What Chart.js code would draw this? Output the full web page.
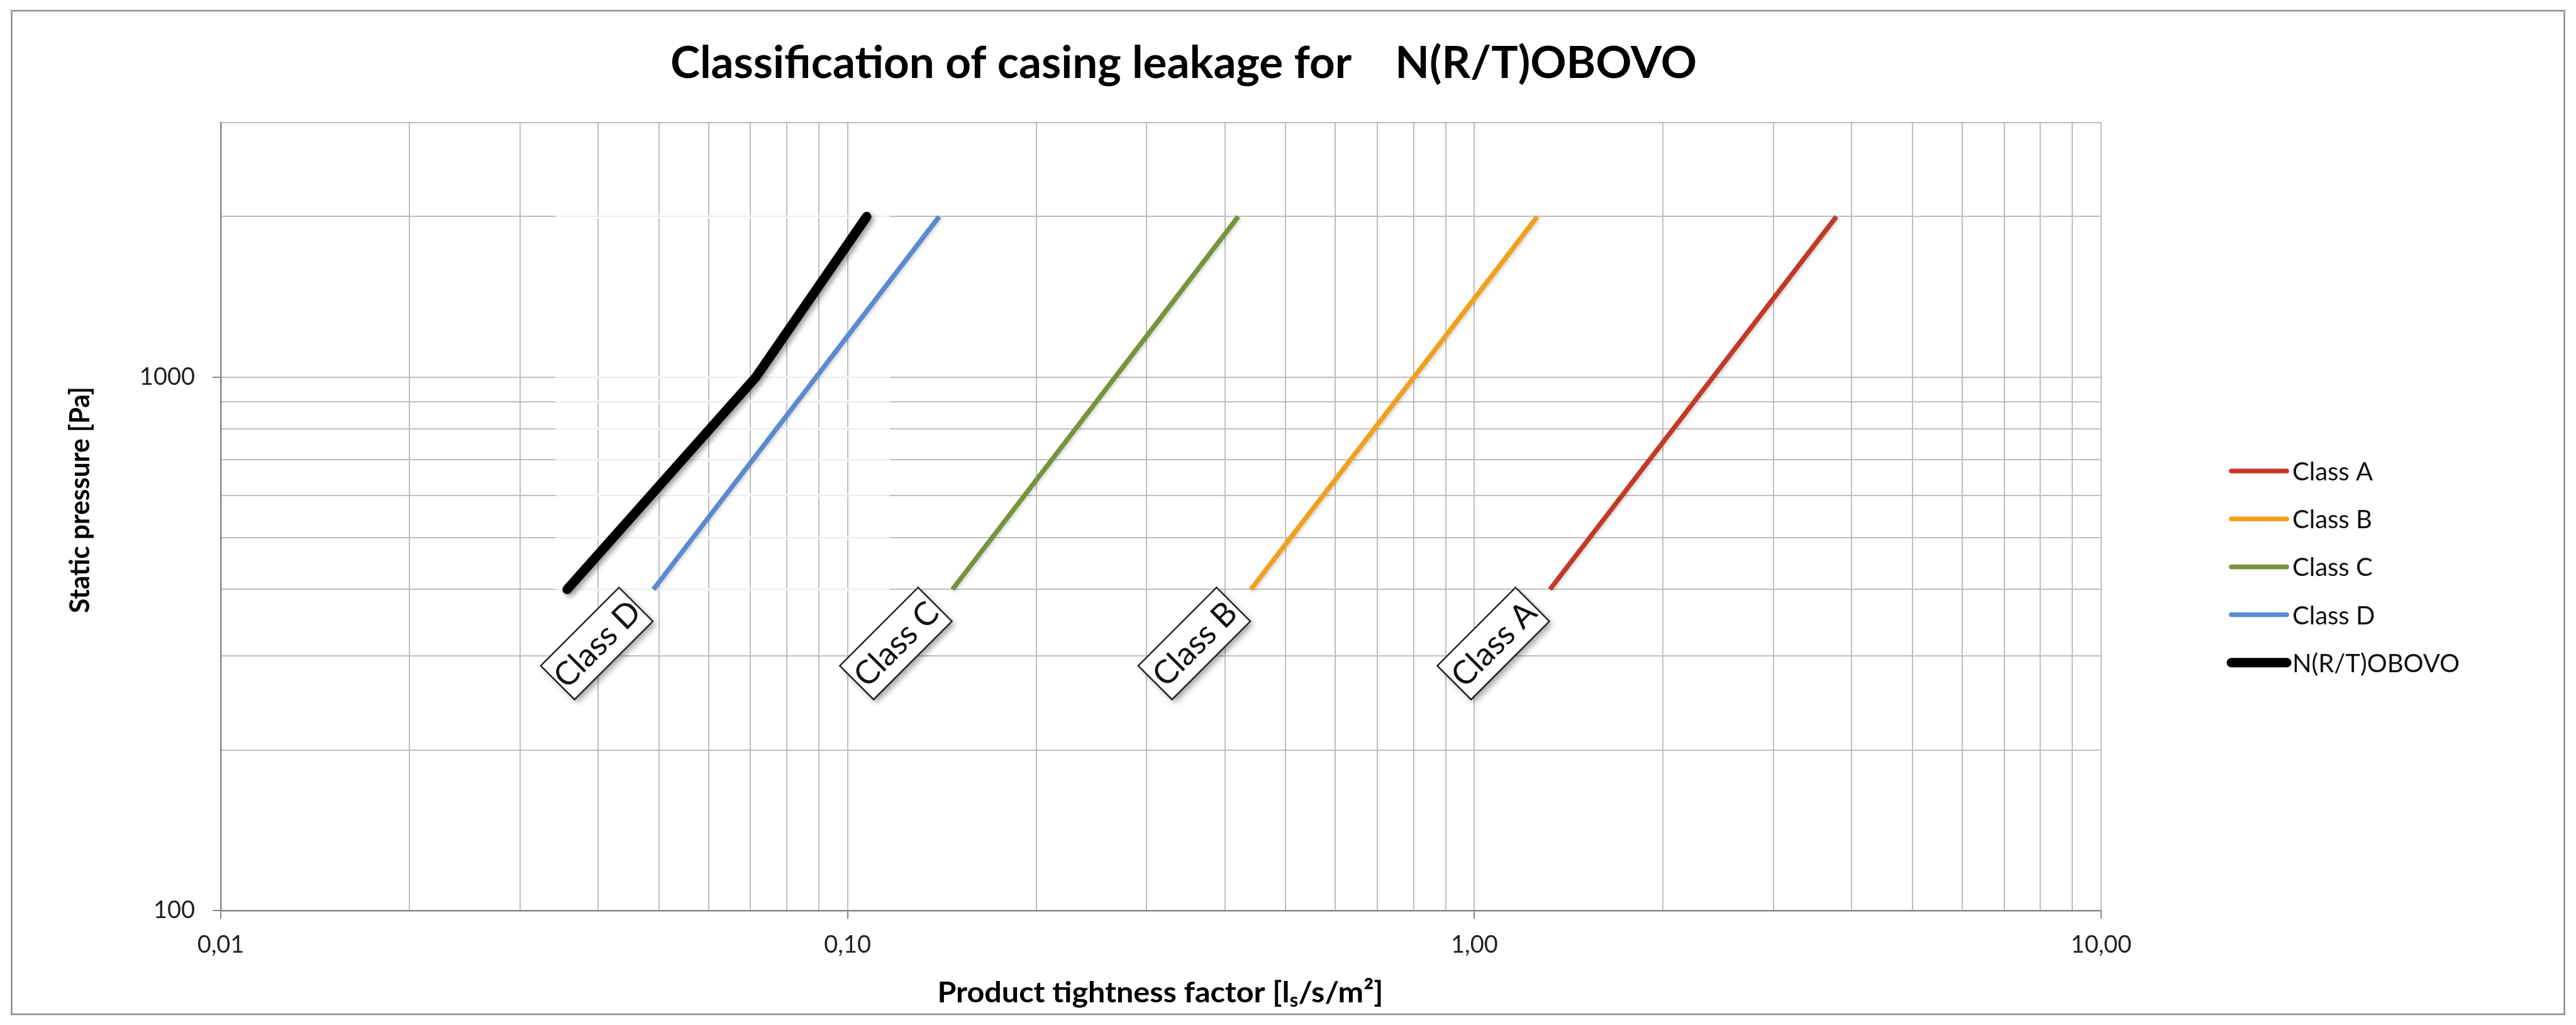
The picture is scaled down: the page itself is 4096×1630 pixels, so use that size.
<!DOCTYPE html>
<html>
<head>
<meta charset="utf-8">
<title>Classification of casing leakage</title>
<script src="https://cdn.jsdelivr.net/npm/chart.js@4.4.0/dist/chart.umd.min.js"></script>
<style>
  html, body { margin: 0; padding: 0; background: #fff; }
  #wrap { width: 4096px; height: 1630px; }
</style>
</head>
<body>
<div id="wrap"><canvas id="leakChart" width="4096" height="1630"></canvas></div>
<script>
// ===== data =====
const seriesNames = ["Class A", "Class B", "Class C", "Class D", "N(R/T)OBOVO"];
const classPressure = [400, 2000];            // Pa
const classA = [1.32, 3.78];                  // l/s/m2
const classB = [0.44, 1.26];
const classC = [0.147, 0.42];
const classD = [0.049, 0.14];
const obovoPressure = [400, 1000, 2000];
const obovo = [0.0357, 0.0714, 0.1073];

const xTickValues = [0.01, 0.02, 0.03, 0.04, 0.05, 0.06, 0.07, 0.08, 0.09,
  0.1, 0.2, 0.3, 0.4, 0.5, 0.6, 0.7, 0.8, 0.9,
  1, 2, 3, 4, 5, 6, 7, 8, 9, 10];
const xLabelValues = [0.01, 0.1, 1, 10];
const xLabelTexts = ["0,01", "0,10", "1,00", "10,00"];
const yTickValues = [100, 200, 300, 400, 500, 600, 700, 800, 900, 1000, 2000, 3000];
const yLabelValues = [100, 1000];
const yLabelTexts = ["100", "1000"];

const seriesColors = ["#C43828", "#F2A01C", "#77933C", "#5A8AD0", "#000000"];

// ===== helpers =====
const FONT = "Lato, 'Open Sans', sans-serif";
const gridGray = "#BEBEBE";
const axisGray = "#868686";

function points(xs, ys) {
  return xs.map((v, i) => ({ x: v, y: ys[i] }));
}

// draw text at a given size, squeezed horizontally to a target width
function squeezedText(ctx, text, size, width, x, y) {
  ctx.font = `bold ${size}px ${FONT}`;
  const sx = width / ctx.measureText(text).width;
  ctx.save();
  ctx.translate(x, y);
  ctx.scale(sx, 1);
  ctx.textAlign = "center";
  ctx.fillText(text, 0, 0);
  ctx.restore();
}

// frame, titles, legend, class tags
const decorPlugin = {
  id: "decor",
  beforeDraw(chart) {
    const ctx = chart.ctx;
    ctx.save();
    ctx.fillStyle = "#fff";
    ctx.fillRect(0, 0, chart.width, chart.height);
    ctx.strokeStyle = "#8C8C8C";
    ctx.lineWidth = 2.5;
    ctx.strokeRect(18.5, 17, chart.width - 37, chart.height - 34);
    ctx.restore();
  },
  beforeDatasetsDraw(chart) {
    // the pale patch behind the Class D tag washes out the horizontal grid
    const ctx = chart.ctx;
    const yScale = chart.scales.y;
    ctx.save();
    ctx.fillStyle = "rgba(255,255,255,0.7)";
    yTickValues.filter(v => v >= 400 && v <= 2000).forEach(v => {
      const py = yScale.getPixelForValue(v);
      ctx.fillRect(883, py - 2.5, 532, 5);
    });
    ctx.restore();
  },
  afterDatasetsDraw(chart) {
    const ctx = chart.ctx;
    // rotated class tags below the start of each class line
    for (let i = 0; i < 4; i++) {
      const p = chart.getDatasetMeta(i).data[0];
      const cx = p.x - 90, cy = p.y + 86;
      ctx.save();
      ctx.translate(cx, cy);
      ctx.rotate(-Math.PI / 4);
      ctx.shadowColor = "rgba(0,0,0,0.35)";
      ctx.shadowBlur = 10;
      ctx.shadowOffsetX = 5;
      ctx.shadowOffsetY = 5;
      ctx.fillStyle = "#fff";
      ctx.fillRect(-88, -38, 176, 76);
      ctx.shadowColor = "transparent";
      ctx.strokeStyle = "#262626";
      ctx.lineWidth = 2.5;
      ctx.strokeRect(-88, -38, 176, 76);
      ctx.fillStyle = "#111";
      ctx.font = `52px ${FONT}`;
      ctx.textAlign = "center";
      ctx.textBaseline = "middle";
      ctx.fillText(chart.data.datasets[i].label, 0, 2);
      ctx.restore();
    }
  },
  afterDraw(chart) {
    const ctx = chart.ctx;
    ctx.save();
    ctx.fillStyle = "#000";
    ctx.textBaseline = "alphabetic";

    // chart title
    squeezedText(ctx, "Classification of casing leakage for    N(R/T)OBOVO", 70, 1632, 1882, 124);

    // y axis title
    ctx.save();
    ctx.translate(142, 795);
    ctx.rotate(-Math.PI / 2);
    squeezedText(ctx, "Static pressure [Pa]", 43, 360, 0, 0);
    ctx.restore();

    // x axis title with subscript s
    const partA = "Product tightness factor [l", partB = "s", partC = "/s/m\u00B2]";
    const size = 46, subSize = 30;
    ctx.font = `bold ${size}px ${FONT}`;
    const wA = ctx.measureText(partA).width, wC = ctx.measureText(partC).width;
    ctx.font = `bold ${subSize}px ${FONT}`;
    const wB = ctx.measureText(partB).width;
    const sx = 709 / (wA + wB + wC);
    ctx.save();
    ctx.translate(1845 - 709 / 2, 1594);
    ctx.scale(sx, 1);
    ctx.textAlign = "left";
    ctx.font = `bold ${size}px ${FONT}`;
    ctx.fillText(partA, 0, 0);
    ctx.font = `bold ${subSize}px ${FONT}`;
    ctx.fillText(partB, wA, 7);
    ctx.font = `bold ${size}px ${FONT}`;
    ctx.fillText(partC, wA + wB, 0);
    ctx.restore();

    // legend
    ctx.textAlign = "left";
    ctx.textBaseline = "middle";
    ctx.font = `40px ${FONT}`;
    chart.data.datasets.forEach((ds, i) => {
      const y = 749 + i * 76.2;
      ctx.beginPath();
      ctx.strokeStyle = ds.borderColor;
      ctx.lineWidth = ds.borderWidth;
      ctx.lineCap = "round";
      ctx.moveTo(3548, y);
      ctx.lineTo(3636, y);
      ctx.stroke();
      ctx.fillStyle = "#111";
      ctx.fillText(ds.label, 3645, y + 2);
    });
    ctx.restore();
  }
};

// soft shadow under the lines
const shadowPlugin = {
  id: "lineShadow",
  beforeDatasetDraw(chart, args) {
    const ctx = chart.ctx;
    const heavy = chart.data.datasets[args.index].borderWidth > 10;
    ctx.save();
    ctx.shadowColor = heavy ? "rgba(0,0,0,0.4)" : "rgba(0,0,0,0.18)";
    ctx.shadowBlur = heavy ? 9 : 5;
    ctx.shadowOffsetX = heavy ? 4 : 2;
    ctx.shadowOffsetY = heavy ? 4 : 2;
  },
  afterDatasetDraw(chart) {
    chart.ctx.restore();
  }
};

const classSeries = [classA, classB, classC, classD];
const datasets = classSeries.map((vals, i) => ({
  label: seriesNames[i],
  data: points(vals, classPressure),
  borderColor: seriesColors[i],
  borderWidth: 7.5,
  borderCapStyle: "butt"
}));
datasets.push({
  label: seriesNames[4],
  data: points(obovo, obovoPressure),
  borderColor: seriesColors[4],
  borderWidth: 15,
  borderCapStyle: "round"
});
datasets.forEach(d => {
  d.showLine = true;
  d.pointRadius = 0;
  d.pointHoverRadius = 0;
  d.tension = 0;
  d.borderJoinStyle = "round";
  d.fill = false;
});

new Chart(document.getElementById("leakChart"), {
  type: "scatter",
  data: { datasets },
  options: {
    responsive: false,
    animation: false,
    devicePixelRatio: 1,
    layout: { padding: { left: 0, top: 195, right: 755, bottom: 0 } },
    plugins: {
      legend: { display: false },
      title: { display: false },
      tooltip: { enabled: false }
    },
    scales: {
      x: {
        type: "logarithmic",
        min: 0.01,
        max: 10,
        afterBuildTicks: s => { s.ticks = xTickValues.map(v => ({ value: v })); },
        afterFit: s => { s.height = 182; },
        ticks: {
          autoSkip: false,
          maxRotation: 0,
          padding: 19,
          color: "#222",
          font: { family: FONT, size: 38 },
          callback: v => {
            const i = xLabelValues.indexOf(v);
            return i >= 0 ? xLabelTexts[i] : "";
          }
        },
        grid: {
          color: gridGray,
          lineWidth: 2,
          tickLength: 13,
          tickColor: c => (c.tick && xLabelValues.includes(c.tick.value)) ? axisGray : "rgba(0,0,0,0)"
        },
        border: { color: axisGray, width: 2.5 }
      },
      y: {
        type: "logarithmic",
        min: 100,
        max: 3000,
        afterBuildTicks: s => { s.ticks = yTickValues.map(v => ({ value: v })); },
        afterFit: s => { s.width = 351; },
        ticks: {
          autoSkip: false,
          padding: 28,
          color: "#222",
          font: { family: FONT, size: 38 },
          callback: v => {
            const i = yLabelValues.indexOf(v);
            return i >= 0 ? yLabelTexts[i] : "";
          }
        },
        grid: {
          color: gridGray,
          lineWidth: 2,
          tickLength: 13,
          tickColor: c => (c.tick && yLabelValues.includes(c.tick.value)) ? axisGray : "rgba(0,0,0,0)"
        },
        border: { color: axisGray, width: 2.5 }
      }
    }
  },
  plugins: [shadowPlugin, decorPlugin]
});
</script>
</body>
</html>
